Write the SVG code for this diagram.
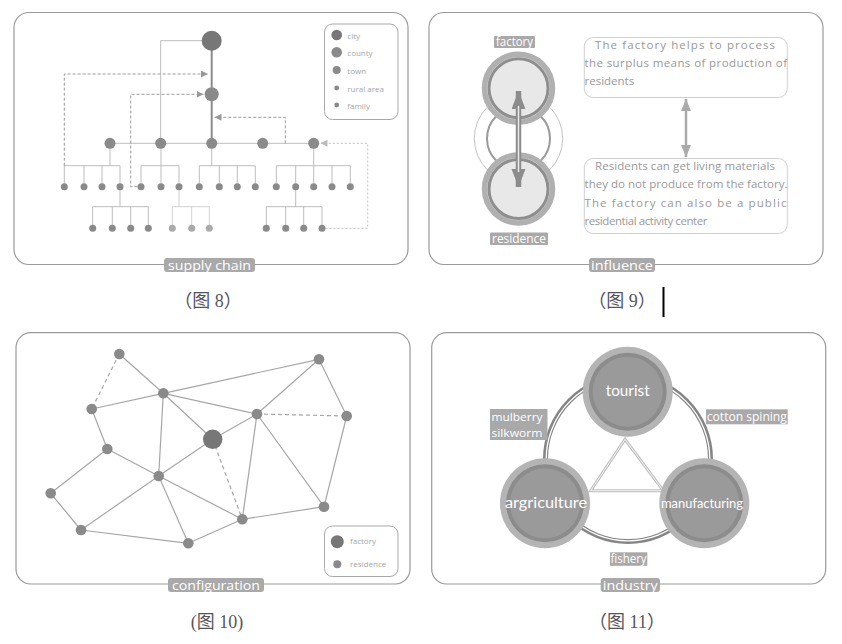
<svg xmlns="http://www.w3.org/2000/svg" width="842" height="644" viewBox="0 0 842 644">
<defs>
<style>
.panel{fill:#fff;stroke:#9a9a9a;stroke-width:1.2}
.tag{fill:#a9a9a9}
.tagt{fill:#fff;font-family:"Open Sans","Liberation Sans",sans-serif;font-size:13px;text-anchor:middle}
.tags{fill:#fff;font-family:"Open Sans","Liberation Sans",sans-serif;font-size:11px;text-anchor:start}
.ln{fill:none;stroke:#bdbdbd;stroke-width:1}
.lnl{fill:none;stroke:#d2d2d2;stroke-width:1}
.dash{fill:none;stroke:#9a9a9a;stroke-width:1;stroke-dasharray:3 2}
.dot{fill:none;stroke:#c2c2c2;stroke-width:1;stroke-dasharray:2 2}
.n{fill:#8a8a8a}
.nl{fill:#aaaaaa}
.leg{fill:#fff;stroke:#a8a8a8;stroke-width:1}
.legt{fill:#a6a6a6;font-family:"Open Sans","Liberation Sans",sans-serif;font-size:8px;dominant-baseline:central}
.edge{stroke:#a6a6a6;stroke-width:1.2;fill:none}
.edged{stroke:#a6a6a6;stroke-width:1.2;fill:none;stroke-dasharray:4 3}
.bt{fill:#999;font-family:"Open Sans","Liberation Sans",sans-serif;font-size:11.5px}
.cap{fill:#555560;font-family:"Liberation Serif","Noto Sans CJK SC",serif;font-size:18px;text-anchor:middle}
.ct{fill:#fff;font-family:"Lato","Open Sans","Liberation Sans",sans-serif;text-anchor:middle;dominant-baseline:central}
</style>
<marker id="ah" markerUnits="userSpaceOnUse" markerWidth="8" markerHeight="8" refX="7" refY="3.5" orient="auto"><path d="M0,0 L7,3.5 L0,7 z" fill="#999"/></marker>
<marker id="ahl" markerUnits="userSpaceOnUse" markerWidth="8" markerHeight="8" refX="7" refY="3.5" orient="auto"><path d="M0,0 L7,3.5 L0,7 z" fill="#bbb"/></marker>
<marker id="bh" markerUnits="userSpaceOnUse" markerWidth="20" markerHeight="16" refX="18" refY="7" orient="auto-start-reverse"><path d="M0,0 L18,7 L0,14 z" fill="#8c8c8c"/></marker>
<marker id="gh" markerUnits="userSpaceOnUse" markerWidth="14" markerHeight="12" refX="12" refY="5" orient="auto-start-reverse"><path d="M0,0 L12,5 L0,10 z" fill="#aaa"/></marker>
</defs>
<rect width="842" height="644" fill="#fff"/>

<!-- ============ Panel 1: supply chain ============ -->
<g id="panel-supply-chain">
<rect class="panel" x="14" y="12.5" width="394" height="252" rx="15"/>
<g id="sc-connectors">
<path class="ln" d="M211.7 40.7 H160.7 V143.3"/>
<path class="ln" d="M110 143.3 H313.7"/>
<path class="ln" d="M110 143.3 V165.7 M64.3 165.7 H120 M64.3 165.7 V186.7 M84 165.7 V186.7 M102 165.7 V186.7 M120 165.7 V186.7"/>
<path class="ln" d="M161 143.3 V186.7 M141 165.7 H179 M141 165.7 V186.7 M179 165.7 V186.7"/>
<path class="ln" d="M211.7 143.3 V165.7 M199.3 165.7 H255.3 M199.3 165.7 V186.7 M219.3 165.7 V186.7 M237.3 165.7 V186.7 M255.3 165.7 V186.7"/>
<path class="ln" d="M313.7 143.3 V186.7 M276.3 165.7 H350.3 M276.3 165.7 V186.7 M295.7 165.7 V186.7 M332 165.7 V186.7 M350.3 165.7 V186.7"/>
<path class="ln" d="M120 186.7 V206.7 M92.7 206.7 H148.3 M92.7 206.7 V228.3 M112.3 206.7 V228.3 M130.7 206.7 V228.3 M148.3 206.7 V228.3"/>
<path class="lnl" d="M179 186.7 V206.7 M172.3 206.7 H209.3 M172.3 206.7 V228.3 M191.7 206.7 V228.3 M209.3 206.7 V228.3"/>
<path class="ln" d="M295.7 186.7 V206.7 M266.3 206.7 H322 M266.3 206.7 V228.3 M285.7 206.7 V228.3 M303.7 206.7 V228.3 M322 206.7 V228.3"/>
<path d="M211.7 40.7 V143.3" stroke="#8a8a8a" stroke-width="2" fill="none"/>
<path class="dash" d="M64.3 165.7 V74 H208" marker-end="url(#ah)"/>
<path class="dash" d="M137.5 186.7 H130.7 V94.3 H203.5" marker-end="url(#ah)"/>
<path class="dash" d="M285.3 143.3 V117.3 H214.5" marker-end="url(#ah)"/>
<path class="dot" d="M325.5 228.3 H367.7 V143.3 H320.5" marker-end="url(#ahl)"/>
</g>
<g id="sc-city"><circle cx="211.7" cy="40.7" r="10" fill="#777"/></g>
<g id="sc-county"><circle cx="211.7" cy="94.3" r="7" fill="#8a8a8a"/></g>
<g id="sc-towns">
<circle class="n" cx="110" cy="143.3" r="5.5"/><circle class="n" cx="160.7" cy="143.3" r="5.5"/><circle class="n" cx="211.7" cy="143.3" r="5.5"/><circle class="n" cx="262.7" cy="143.3" r="5.5"/><circle class="n" cx="313.7" cy="143.3" r="5.5"/>
</g>
<g id="sc-rural">
<circle class="n" cx="64.3" cy="186.7" r="3.5"/><circle class="n" cx="84" cy="186.7" r="3.5"/><circle class="n" cx="102" cy="186.7" r="3.5"/><circle class="n" cx="120" cy="186.7" r="3.5"/>
<circle class="n" cx="141" cy="186.7" r="3.5"/><circle class="n" cx="161" cy="186.7" r="3.5"/><circle class="n" cx="179" cy="186.7" r="3.5"/>
<circle class="n" cx="199.3" cy="186.7" r="3.5"/><circle class="n" cx="219.3" cy="186.7" r="3.5"/><circle class="n" cx="237.3" cy="186.7" r="3.5"/><circle class="n" cx="255.3" cy="186.7" r="3.5"/>
<circle class="n" cx="276.3" cy="186.7" r="3.5"/><circle class="n" cx="295.7" cy="186.7" r="3.5"/><circle class="n" cx="313.7" cy="186.7" r="3.5"/><circle class="n" cx="332" cy="186.7" r="3.5"/><circle class="n" cx="350.3" cy="186.7" r="3.5"/>
</g>
<g id="sc-family">
<circle class="n" cx="92.7" cy="228.3" r="3.5"/><circle class="n" cx="112.3" cy="228.3" r="3.5"/><circle class="n" cx="130.7" cy="228.3" r="3.5"/><circle class="n" cx="148.3" cy="228.3" r="3.5"/>
<circle class="nl" cx="172.3" cy="228.3" r="3.5"/><circle class="nl" cx="191.7" cy="228.3" r="3.5"/><circle class="nl" cx="209.3" cy="228.3" r="3.5"/>
<circle class="n" cx="266.3" cy="228.3" r="3.5"/><circle class="n" cx="285.7" cy="228.3" r="3.5"/><circle class="n" cx="303.7" cy="228.3" r="3.5"/><circle class="n" cx="322" cy="228.3" r="3.5"/>
</g>
<g id="sc-legend">
<rect class="leg" x="324.5" y="24" width="73.5" height="95.5" rx="8"/>
<circle cx="336.7" cy="35" r="5.3" fill="#777"/><text class="legt" x="347.3" y="35">city</text>
<circle cx="336.7" cy="52.3" r="5.3" fill="#8a8a8a"/><text class="legt" x="347.3" y="52.3">county</text>
<circle cx="336.7" cy="70" r="4" fill="#8a8a8a"/><text class="legt" x="347.3" y="70">town</text>
<circle cx="336.7" cy="88" r="2.4" fill="#8a8a8a"/><text class="legt" x="347.3" y="88">rural area</text>
<circle cx="336.7" cy="105" r="2.4" fill="#8a8a8a"/><text class="legt" x="347.3" y="105">family</text>
</g>
<g id="sc-label"><rect class="tag" x="164" y="258" width="91" height="14" rx="3"/><text class="tagt" x="209.5" y="269.5" textLength="83" lengthAdjust="spacingAndGlyphs">supply chain</text></g>
</g>

<!-- ============ Panel 2: influence ============ -->
<g id="panel-influence">
<rect class="panel" x="429" y="12.5" width="394" height="252" rx="15"/>
<g id="inf-rings">
<circle cx="518.5" cy="138.5" r="44.2" fill="none" stroke="#c4c4c4" stroke-width="1"/>
<circle cx="518.5" cy="138.5" r="31.5" fill="none" stroke="#9a9a9a" stroke-width="2"/>
</g>
<g id="inf-factory">
<circle cx="518.5" cy="88.3" r="34" fill="#e8e8e8" stroke="#b0b0b0" stroke-width="5.5"/>
<circle cx="518.5" cy="88.3" r="29.5" fill="none" stroke="#8e8e8e" stroke-width="3"/>
<rect class="tag" x="494" y="36" width="41" height="12" rx="1"/><text class="tagt" x="514.5" y="46" font-size="11.5" textLength="37" lengthAdjust="spacingAndGlyphs">factory</text>
</g>
<g id="inf-residence">
<circle cx="518.5" cy="189" r="34" fill="#e8e8e8" stroke="#b0b0b0" stroke-width="5.5"/>
<circle cx="518.5" cy="189" r="29.5" fill="none" stroke="#8e8e8e" stroke-width="3"/>
<rect class="tag" x="490" y="232.5" width="58" height="12.5" rx="1"/><text class="tagt" x="519" y="243" font-size="11.5" textLength="54" lengthAdjust="spacingAndGlyphs">residence</text>
</g>
<g id="inf-connectors">
<line x1="518.5" y1="91" x2="518.5" y2="187" stroke="#8c8c8c" stroke-width="5.5" marker-start="url(#bh)" marker-end="url(#bh)"/>
<line x1="518.5" y1="106" x2="518.5" y2="172" stroke="#e8e8e8" stroke-width="1.5"/>
<line x1="686" y1="99" x2="686" y2="157" stroke="#aaa" stroke-width="2.5" marker-start="url(#gh)" marker-end="url(#gh)"/>
</g>
<g id="inf-box1">
<rect x="584.3" y="37.5" width="203" height="60" rx="9" fill="#fff" stroke="#cfcfcf" stroke-width="1"/>
<text class="bt" x="595" y="48.5" textLength="180" lengthAdjust="spacing">The factory helps to process</text>
<text class="bt" x="584.5" y="66.5" textLength="202.5" lengthAdjust="spacing">the surplus means of production of</text>
<text class="bt" x="584.5" y="84.5">residents</text>
</g>
<g id="inf-box2">
<rect x="584.3" y="158.5" width="203" height="75" rx="9" fill="#fff" stroke="#cfcfcf" stroke-width="1"/>
<text class="bt" x="595" y="169.5" textLength="180" lengthAdjust="spacing">Residents can get living materials</text>
<text class="bt" x="584.5" y="188" textLength="203" lengthAdjust="spacing">they do not produce from the factory.</text>
<text class="bt" x="584.5" y="206.5" textLength="202" lengthAdjust="spacing">The factory can also be a public</text>
<text class="bt" x="584.5" y="224.5" textLength="123" lengthAdjust="spacing">residential activity center</text>
</g>
<g id="inf-label"><rect class="tag" x="589" y="258" width="66" height="14" rx="3"/><text class="tagt" x="622" y="269.5" textLength="62" lengthAdjust="spacingAndGlyphs">influence</text></g>
</g>

<!-- ============ Panel 3: configuration ============ -->
<g id="panel-configuration">
<rect class="panel" x="16" y="332.7" width="394" height="251.3" rx="15"/>
<g id="cf-connectors">
<path class="edge" d="M119.3 354 L163.3 393.3 M91.7 409 L163.3 393.3 M163.3 393.3 L319 359.3 M163.3 393.3 L257 414 M163.3 393.3 L212.7 439.3 M163.3 393.3 L158.7 476 M91.7 409 L107.3 449 M107.3 449 L158.7 476 M107.3 449 L50.7 493.3 M50.7 493.3 L81 530 M81 530 L158.7 476 M81 530 L188.3 543.3 M158.7 476 L188.3 543.3 M158.7 476 L242.3 519.3 M158.7 476 L212.7 439.3 M212.7 439.3 L257 414 M257 414 L319 359.3 M257 414 L242.3 519.3 M257 414 L324 506.7 M319 359.3 L346.7 416 M346.7 416 L324 506.7 M324 506.7 L242.3 519.3 M242.3 519.3 L188.3 543.3"/>
<path class="edged" d="M119.3 354 L91.7 409 M257 414 L346.7 416 M212.7 439.3 L242.3 519.3"/>
</g>
<g id="cf-factory"><circle cx="212.7" cy="439.3" r="9.7" fill="#777"/></g>
<g id="cf-residences">
<circle class="n" cx="119.3" cy="354" r="5.3"/><circle class="n" cx="163.3" cy="393.3" r="5.3"/><circle class="n" cx="91.7" cy="409" r="5.3"/><circle class="n" cx="319" cy="359.3" r="5.3"/><circle class="n" cx="257" cy="414" r="5.3"/><circle class="n" cx="346.7" cy="416" r="5.3"/><circle class="n" cx="107.3" cy="449" r="5.3"/><circle class="n" cx="158.7" cy="476" r="5.3"/><circle class="n" cx="50.7" cy="493.3" r="5.3"/><circle class="n" cx="324" cy="506.7" r="5.3"/><circle class="n" cx="242.3" cy="519.3" r="5.3"/><circle class="n" cx="81" cy="530" r="5.3"/><circle class="n" cx="188.3" cy="543.3" r="5.3"/>
</g>
<g id="cf-legend">
<rect class="leg" x="324.5" y="526" width="73.5" height="50.5" rx="8"/>
<circle cx="337.3" cy="541.7" r="6.5" fill="#777"/><text class="legt" x="350" y="540.5">factory</text>
<circle cx="337.3" cy="564.3" r="4" fill="#8a8a8a"/><text class="legt" x="350" y="563.5">residence</text>
</g>
<g id="cf-label"><rect class="tag" x="168" y="578" width="96" height="14" rx="3"/><text class="tagt" x="216" y="589.5" textLength="88" lengthAdjust="spacingAndGlyphs">configuration</text></g>
</g>

<!-- ============ Panel 4: industry ============ -->
<g id="panel-industry">
<rect class="panel" x="431.7" y="332.7" width="394" height="251.3" rx="15"/>
<g id="ind-connectors">
<circle cx="628" cy="459" r="82.5" fill="none" stroke="#858585" stroke-width="5"/>
<circle cx="628" cy="459" r="81.8" fill="none" stroke="#fff" stroke-width="1.3"/>
<path d="M625 439.3 L590.7 490.7 L663.3 490.7 Z" fill="none" stroke="#c0c0c0" stroke-width="3"/>
<path d="M625 439.3 L590.7 490.7 L663.3 490.7 Z" fill="none" stroke="#fff" stroke-width="0.8"/>
</g>
<g id="ind-tourist">
<circle cx="627.7" cy="391.7" r="45" fill="#b4b4b4"/><circle cx="627.7" cy="391.7" r="39" fill="#8c8c8c"/><circle cx="627.7" cy="391.7" r="35" fill="#9a9a9a"/>
<text class="ct" x="627.7" y="389.5" font-size="16" textLength="44" lengthAdjust="spacingAndGlyphs">tourist</text>
</g>
<g id="ind-agriculture">
<circle cx="545" cy="503.3" r="45" fill="#b4b4b4"/><circle cx="545" cy="503.3" r="39" fill="#8c8c8c"/><circle cx="545" cy="503.3" r="35" fill="#9a9a9a"/>
<text class="ct" x="546" y="502" font-size="15.5" textLength="82" lengthAdjust="spacingAndGlyphs">argriculture</text>
</g>
<g id="ind-manufacturing">
<circle cx="704.3" cy="503.3" r="45" fill="#b4b4b4"/><circle cx="704.3" cy="503.3" r="39" fill="#8c8c8c"/><circle cx="704.3" cy="503.3" r="35" fill="#9a9a9a"/>
<text class="ct" x="702" y="503" font-size="12.5" textLength="82" lengthAdjust="spacingAndGlyphs">manufacturing</text>
</g>
<g id="ind-labels">
<rect class="tag" x="490" y="409" width="57.5" height="31"/>
<text class="tags" x="491.5" y="421" textLength="51" lengthAdjust="spacingAndGlyphs">mulberry</text>
<text class="tags" x="491.5" y="437" textLength="51" lengthAdjust="spacingAndGlyphs">silkworm</text>
<rect class="tag" x="706" y="409.3" width="81.7" height="15"/>
<text class="tagt" x="746.8" y="421" font-size="12" textLength="80" lengthAdjust="spacingAndGlyphs">cotton spining</text>
<rect class="tag" x="610" y="552.3" width="37.3" height="13.5"/>
<text class="tagt" x="628.6" y="563.3" font-size="12" textLength="36" lengthAdjust="spacingAndGlyphs">fishery</text>
</g>
<g id="ind-label"><rect class="tag" x="600.7" y="578" width="59.3" height="14" rx="3"/><text class="tagt" x="630.3" y="589.5" textLength="55" lengthAdjust="spacingAndGlyphs">industry</text></g>
</g>

<!-- ============ Captions ============ -->
<g id="captions">
<text class="cap" x="208" y="307">（图 8）</text>
<text class="cap" x="622" y="307">（图 9）</text>
<line x1="663.5" y1="287" x2="663.5" y2="317" stroke="#000" stroke-width="2"/>
<text class="cap" x="217" y="628">(图 10)</text>
<text class="cap" x="627" y="628">（图 11）</text>
</g>
</svg>
